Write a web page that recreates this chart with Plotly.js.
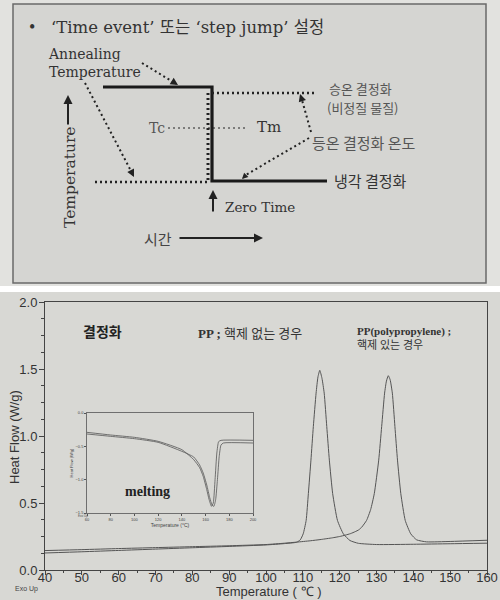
<!DOCTYPE html>
<html><head><meta charset="utf-8">
<script src="https://cdn.plot.ly/plotly-3.0.1.min.js"></script>
<style>html,body{margin:0;padding:0;background:#fff}#c{width:500px;height:600px}</style>
</head><body><div id="c"></div>
<script>
// ---- main DSC crystallization curves (Temperature °C, Heat Flow W/g)
const tempNoNuc = [40,50,60,70,80,90,100,105,108.3,109.3,110.1,110.9,111.5,112.2,112.85,113.6,114.1,114.6,115.2,115.8,116.5,117.2,118.1,119.4,121.0,122.8,125.1,130,140,150,160];
const flowNoNuc = [0.127,0.136,0.146,0.156,0.166,0.176,0.187,0.197,0.207,0.225,0.27,0.37,0.57,0.82,1.07,1.32,1.44,1.49,1.43,1.32,1.07,0.82,0.57,0.37,0.27,0.22,0.199,0.19,0.192,0.196,0.2];
const tempNuc = [40,50,60,70,80,90,100,105,108.3,112,115,118,120,121.5,123,124.2,125.2,126,127.3,128.4,129.4,130.6,131.4,132.2,132.7,133.2,133.7,134.3,135.0,135.7,136.6,137.8,139.3,140.9,143.6,150,160];
const flowNuc = [0.145,0.152,0.16,0.167,0.174,0.181,0.19,0.2,0.208,0.218,0.228,0.24,0.25,0.26,0.272,0.286,0.30,0.32,0.37,0.45,0.57,0.82,1.07,1.32,1.41,1.45,1.42,1.32,1.07,0.82,0.57,0.37,0.27,0.225,0.21,0.213,0.222];
// ---- inset melting curves
const meltT1 = [60,80,100,120,140,150,155,158,161,163,165,166.5,168,169.5,171,173,200];
const meltF1 = [-0.29,-0.33,-0.365,-0.425,-0.55,-0.7,-0.82,-0.95,-1.15,-1.3,-1.4,-1.35,-1.0,-0.6,-0.43,-0.41,-0.41];
const meltT2 = [60,80,100,120,140,150,155,158,161,163.5,165.5,167,168.5,170,171.5,173,175,200];
const meltF2 = [-0.315,-0.35,-0.385,-0.44,-0.575,-0.66,-0.78,-0.9,-1.08,-1.27,-1.38,-1.4,-1.3,-1.0,-0.65,-0.48,-0.45,-0.45];
// ---- schematic "step jump" diagram (schematic time / temperature units)
const stepTime = [103,212,212,327];
const stepTemp = [87,87,181,181];
const heatDotTime = [212,315], heatDotTemp = [93,93];
const coolDotTime = [95,210], coolDotTemp = [182,182];
const jumpDotTime = [208,208], jumpDotTemp = [93,181];
const tcTmTime = [168,248], tcTmTemp = [128,128];
const annPtr1Time = [142,173], annPtr1Temp = [63,82];
const annPtr2Time = [85,131], annPtr2Temp = [83,171];
const isoPtr1Time = [311,302], isoPtr1Temp = [132,100];
const isoPtr2Time = [309,244], isoPtr2Temp = [138,176];

const P = (px)=>px/500, Q = (py)=>1-py/600;
const dark='#222', gray='#555';
const serif='Liberation Serif, DejaVu Serif, Noto Sans CJK KR, serif';
const dserif='DejaVu Serif, Liberation Serif, Noto Sans CJK KR, serif';
const kr='Noto Sans CJK KR, sans-serif';
const sans='Liberation Sans, Arial, sans-serif';

const dot = (x,y,w)=>({x,y,xaxis:'x3',yaxis:'y3',mode:'lines',hoverinfo:'skip',line:{color:dark,width:w||2.5,dash:'2px,3px'}});
const traces = [
  {x:tempNoNuc,y:flowNoNuc,mode:'lines',line:{color:gray,width:1,shape:'spline',smoothing:0.5}},
  {x:tempNuc,y:flowNuc,mode:'lines',line:{color:gray,width:1,shape:'spline',smoothing:0.5}},
  {x:meltT1,y:meltF1,xaxis:'x2',yaxis:'y2',mode:'lines',line:{color:gray,width:0.8,shape:'spline',smoothing:0.5}},
  {x:meltT2,y:meltF2,xaxis:'x2',yaxis:'y2',mode:'lines',line:{color:gray,width:0.8,shape:'spline',smoothing:0.5}},
  {x:stepTime,y:stepTemp,xaxis:'x3',yaxis:'y3',mode:'lines',line:{color:'#1a1a1a',width:3.2}},
  dot(heatDotTime,heatDotTemp),dot(coolDotTime,coolDotTemp),dot(jumpDotTime,jumpDotTemp,3),
  dot(tcTmTime,tcTmTemp,1),
  dot(annPtr1Time,annPtr1Temp,2),dot(annPtr2Time,annPtr2Temp,2),
  dot(isoPtr1Time,isoPtr1Temp,2),dot(isoPtr2Time,isoPtr2Temp,2)
];

function arrow(hx,hy,tx,ty,w,size){return {xref:'x3',yref:'y3',axref:'x3',ayref:'y3',x:hx,y:hy,ax:tx,ay:ty,text:'',showarrow:true,arrowhead:2,arrowsize:size||1,arrowwidth:w||1.5,arrowcolor:dark};}
function txt(x,y,t,font,xanchor,extra){return Object.assign({xref:'x3',yref:'y3',x,y,text:t,showarrow:false,font,xanchor:xanchor||'left',yanchor:'middle',align:'left'},extra||{});}
function ptxt(px,py,t,font,xanchor,extra){return Object.assign({xref:'paper',yref:'paper',x:P(px),y:Q(py),text:t,showarrow:false,font,xanchor:xanchor||'left',yanchor:'middle',align:'left'},extra||{});}

const annotations = [
  txt(27,27,'•',{family:serif,size:18,color:'#333'}),
  txt(49,27,'‘Time event’ 또는 ‘step jump’ 설정',{family:dserif,size:16.5,color:'#333'}),
  txt(46,63,'Annealing<br>Temperature',{family:dserif,size:14,color:'#333'}),
  txt(147,128,'Tc',{family:dserif,size:14,color:'#555'}),
  txt(255,127,'Tm',{family:dserif,size:15,color:'#333'}),
  txt(328,88,'승온 결정화',{family:kr,size:13,color:'#555'},'left',{borderpad:0}),
  txt(326,107,'(비정질 물질)',{family:kr,size:13,color:'#555'},'left',{borderpad:0}),
  txt(310,142,'등온 결정화 온도',{family:kr,size:15,color:'#555'}),
  txt(332,180,'냉각 결정화',{family:kr,size:15,color:'#333'}),
  txt(223,207,'Zero Time',{family:dserif,size:13.5,color:'#333'}),
  txt(70,177,'Temperature',{family:dserif,size:15.5,color:'#333'},'center',{textangle:-90}),
  txt(158,238,'시간',{family:kr,size:15,color:'#444'},'center'),
  arrow(178,85,172.5,81.5,1.5),
  arrow(134,177,131,171,1.5),
  arrow(300,94,302,100,1.5),
  arrow(242,179,246,175,1.5,0.8),
  arrow(213,190,213,213,2,0.9),
  arrow(263,238,178,238,2,0.9),
  arrow(68,95,68,126,2,0.9),
  // bottom chart labels
  ptxt(102,331,'<b>결정화</b>',{family:kr,size:14,color:'#222'},'center'),
  ptxt(250,333,'<b>PP ;</b> 핵제 없는 경우',{family:serif,size:13,color:'#333'},'center'),
  ptxt(355,338,'<b>PP(polypropylene) ;</b><br>핵제 있는 경우',{family:serif,size:11,color:'#333'}),
  ptxt(147,492,'<b>melting</b>',{family:serif,size:14,color:'#222'},'center'),
  ptxt(13,589,'Exo Up',{family:sans,size:7,color:'#444'}),
  ptxt(76,516,'Exo Up',{family:sans,size:3,color:'#555'}),
  ptxt(268,600,'Temperature ( ℃ )',{family:sans,size:13,color:'#333'},'center',{yanchor:'bottom',borderpad:0}),
  ptxt(14,437,'Heat Flow (W/g)',{family:sans,size:13,color:'#333'},'center',{textangle:-90})
];

const shapes = [
  {type:'rect',xref:'paper',yref:'paper',x0:0,x1:1,y0:Q(286),y1:Q(0),fillcolor:'#e2e2df',line:{width:0},layer:'below'},
  {type:'rect',xref:'paper',yref:'paper',x0:P(13),x1:P(486),y0:Q(283),y1:Q(4),fillcolor:'#d5d5d2',line:{color:'#6a6a6a',width:1.5},layer:'below'},
  {type:'rect',xref:'paper',yref:'paper',x0:0,x1:1,y0:0,y1:Q(292),fillcolor:'#d8d8d4',line:{width:0},layer:'below'}
];

const layout = {
  width:500,height:600,margin:{l:0,r:0,t:0,b:0},
  paper_bgcolor:'#fff',plot_bgcolor:'rgba(0,0,0,0)',showlegend:false,
  xaxis:{domain:[P(45),P(487)],range:[40,160],dtick:10,ticks:'outside',ticklen:4,tickcolor:'#444',linecolor:'#444',linewidth:1,mirror:true,showgrid:false,zeroline:false,
    tickfont:{family:sans,size:13,color:'#333'},ticklabelstandoff:-9,
    minor:{dtick:5,ticks:'outside',ticklen:2,tickcolor:'#444'}},
  yaxis:{domain:[Q(570),Q(302)],range:[0,2],dtick:0.5,tickformat:'.1f',ticks:'outside',ticklen:5,tickcolor:'#444',linecolor:'#444',linewidth:1,mirror:true,showgrid:false,zeroline:false,
    tickfont:{family:sans,size:13,color:'#333'},ticklabelstandoff:-1,
    minor:{dtick:0.125,ticks:'outside',ticklen:3,tickcolor:'#444'}},
  xaxis2:{domain:[P(87),P(253)],range:[60,200],dtick:20,anchor:'y2',ticks:'outside',ticklen:2,tickcolor:'#555',linecolor:'#555',linewidth:0.8,mirror:true,showgrid:false,zeroline:false,
    tickfont:{family:sans,size:4,color:'#444'},title:{text:'Temperature (°C)',font:{family:sans,size:5,color:'#444'},standoff:0}},
  yaxis2:{domain:[Q(513),Q(413)],range:[-1.5,0],dtick:0.5,tickformat:'.1f',anchor:'x2',ticks:'outside',ticklen:2,tickcolor:'#555',linecolor:'#555',linewidth:0.8,mirror:true,showgrid:false,zeroline:false,
    tickfont:{family:sans,size:4,color:'#444'},title:{text:'Heat Flow (W/g)',font:{family:sans,size:4,color:'#444'},standoff:1}},
  xaxis3:{domain:[0,1],range:[0,500],anchor:'y3',visible:false,fixedrange:true},
  yaxis3:{domain:[Q(288),1],range:[288,0],anchor:'x3',visible:false,fixedrange:true},
  annotations,shapes
};
Plotly.newPlot('c',traces,layout,{staticPlot:true});
</script></body></html>
